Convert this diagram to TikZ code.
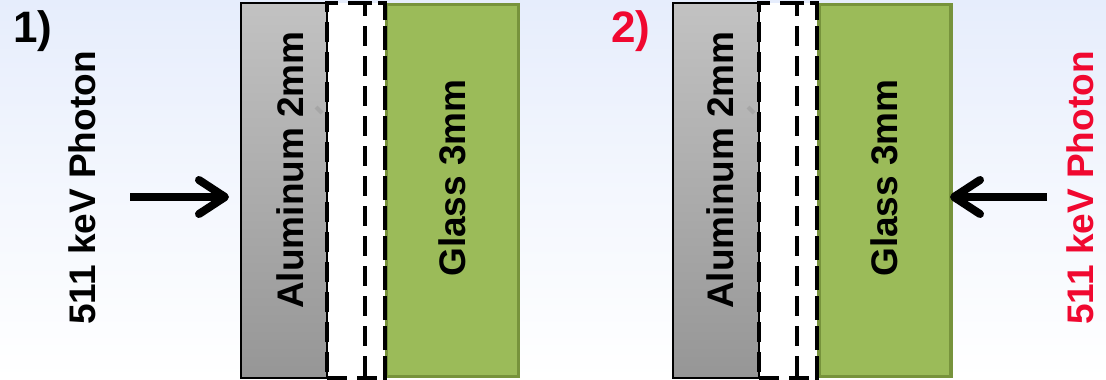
\documentclass[tikz,border=0pt]{standalone}
\usepackage{fontspec}
\setmainfont{Liberation Sans}
\usetikzlibrary{arrows.meta}
\definecolor{bgtop}{RGB}{230,237,252}
\definecolor{altop}{RGB}{194,194,194}
\definecolor{albot}{RGB}{150,150,150}
\definecolor{glassfill}{RGB}{155,187,89}
\definecolor{glassline}{RGB}{119,147,60}
\definecolor{photred}{RGB}{240,8,48}
\tikzset{
  alubox/.style={draw=black, line width=1.2pt, top color=altop, bottom color=albot, minimum width=86pt, minimum height=375pt, inner sep=0pt},
  gapbox/.style={fill=white, draw=none, minimum width=58pt, minimum height=375pt, inner sep=0pt},
  glassbox/.style={draw=glassline, fill=glassfill, line width=3.5pt, minimum width=132pt, minimum height=372pt, inner sep=0pt},
  dashbox/.style={draw=black, line width=4pt, dash pattern=on 20pt off 10pt, inner sep=0pt, minimum height=375pt},
  lbl/.style={font=\fontsize{37}{40}\selectfont\bfseries, inner sep=0pt},
  num/.style={font=\fontsize{44}{48}\selectfont\bfseries, inner sep=0pt},
  photon/.style={line width=8pt, -{Straight Barb[length=26pt,width=34pt,line width=8pt,line cap=round,line join=round]}},
  tick/.style={draw=gray!70, line width=4pt}
}
\begin{document}
\begin{tikzpicture}[x=1pt,y=-1pt]
\useasboundingbox (0,0) rectangle (1106,380);
\shade[top color=bgtop, bottom color=white, middle color=bgtop!45] (0,0) rectangle (1106,380);

% Panel 1
\node[gapbox] (gap1) at (356,190.5) {};
\node[alubox] (al1) at (284,190.5) {};
\node[glassbox] (gl1) at (452.5,190.5) {};
\node[dashbox, minimum width=58pt] (da1) at (356,190.5) {};
\node[dashbox, minimum width=20pt, dash phase=12pt] (db1) at (375,190.5) {};
\draw[tick] (316,107) -- (322,113);
\node[lbl, rotate=90] (alt1) at (290,170) {Aluminum 2mm};
\node[lbl, rotate=90] (glt1) at (452,178) {Glass 3mm};
\node[num] (n1) at (33,31) {1)};
\node[lbl, rotate=90] (ph1) at (82,188) {511 keV Photon};
\coordinate (s1) at (130,197);
\coordinate (e1) at (229,197);
\draw[photon] (s1) -- (e1);

% Panel 2
\node[gapbox] (gap2) at (788,190.5) {};
\node[alubox] (al2) at (716,190.5) {};
\node[glassbox] (gl2) at (885,190.5) {};
\node[dashbox, minimum width=58pt] (da2) at (788,190.5) {};
\node[dashbox, minimum width=20pt, dash phase=12pt] (db2) at (807,190.5) {};
\draw[tick] (748,107) -- (754,113);
\node[lbl, rotate=90] (alt2) at (720,170) {Aluminum 2mm};
\node[lbl, rotate=90] (glt2) at (884,178) {Glass 3mm};
\node[num, text=photred] (n2) at (631,31) {2)};
\node[lbl, rotate=90, text=photred] (ph2) at (1080,188) {511 keV Photon};
\coordinate (s2) at (1047,197);
\coordinate (e2) at (950,197);
\draw[photon] (s2) -- (e2);
\end{tikzpicture}
\end{document}
